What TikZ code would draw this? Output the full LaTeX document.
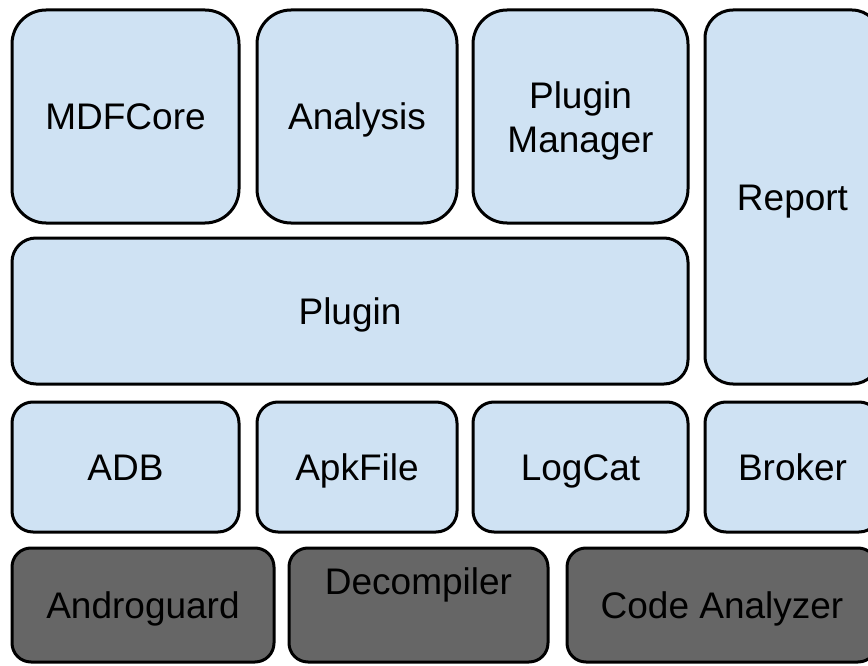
\documentclass[tikz,border=0pt]{standalone}
\usepackage{fontspec}
\setmainfont{Liberation Sans}
\definecolor{lightbox}{HTML}{CFE2F3}
\definecolor{darkbox}{HTML}{666666}
\begin{document}
\begin{tikzpicture}[x=1pt,y=-1pt,
  box/.style={draw=black, line width=3pt, inner sep=0pt, outer sep=0pt,
    font=\fontsize{37}{44}\selectfont, text height=26.5pt, text depth=0pt},
  lbox/.style={box, fill=lightbox},
  dbox/.style={box, fill=darkbox},
  label text/.style={inner sep=0pt, font=\fontsize{37}{44}\selectfont, align=center}]
\useasboundingbox (0,0) rectangle (868,666);
% top row
\node[lbox, rounded corners=34pt, minimum width=227pt, minimum height=213pt] (mdf) at (125.5,116.5) {MDFCore};
\node[lbox, rounded corners=34pt, minimum width=200pt, minimum height=213pt] (ana) at (357,116.5) {Analysis};
\node[lbox, rounded corners=34pt, minimum width=215pt, minimum height=213pt] (pm) at (580.5,116.5) {};
\node[label text] (pmt) at ([yshift=-4pt]pm.center) {Plugin\\Manager};
\node[lbox, rounded corners=28pt, minimum width=175pt, minimum height=374pt] (rep) at (792.5,197) {Report};
% plugin
\node[lbox, rounded corners=24pt, minimum width=676pt, minimum height=146pt] (plg) at (350,311) {Plugin};
% third row
\node[lbox, rounded corners=21pt, minimum width=227pt, minimum height=130pt] (adb) at (125.5,467) {ADB};
\node[lbox, rounded corners=21pt, minimum width=200pt, minimum height=130pt] (apk) at (357,467) {ApkFile};
\node[lbox, rounded corners=21pt, minimum width=215pt, minimum height=130pt] (log) at (580.5,467) {LogCat};
\node[lbox, rounded corners=21pt, minimum width=175pt, minimum height=130pt] (brk) at (792.5,467) {Broker};
% bottom row
\node[dbox, rounded corners=19pt, minimum width=262pt, minimum height=114pt] (andr) at (143,605) {Androguard};
\node[dbox, rounded corners=19pt, minimum width=259pt, minimum height=114pt] (dec) at (418.5,605) {};
\node[box, draw=none, fill=none] (dect) at ([yshift=24pt]dec.center) {Decompiler};
\node[dbox, rounded corners=19pt, minimum width=310pt, minimum height=114pt] (code) at (722,605) {Code Analyzer};
\end{tikzpicture}
\end{document}
